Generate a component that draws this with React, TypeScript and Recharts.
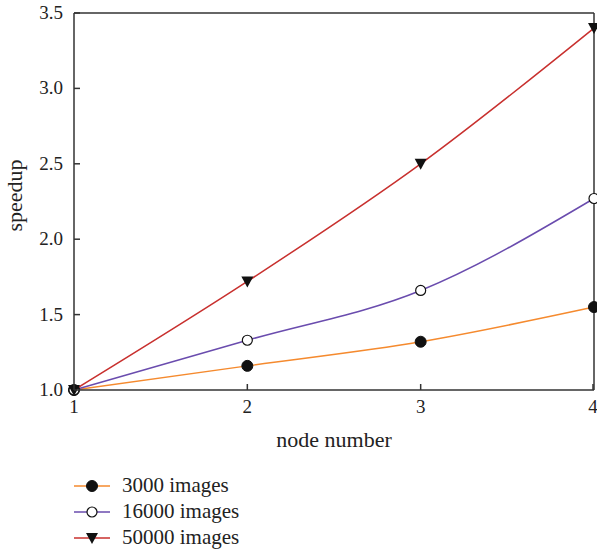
import React from 'react';
import { LineChart, Line, XAxis, YAxis, ReferenceLine } from 'recharts';

const nodes = [1, 2, 3, 4];
const speedup3000 = [1.0, 1.16, 1.32, 1.55];
const speedup16000 = [1.0, 1.33, 1.66, 2.27];
const speedup50000 = [1.0, 1.72, 2.5, 3.4];
const yTicks = [1.0, 1.5, 2.0, 2.5, 3.0, 3.5];

const data = nodes.map((n, i) => ({
  node: n,
  s3000: speedup3000[i],
  s16000: speedup16000[i],
  s50000: speedup50000[i],
}));

const FONT = '"Liberation Serif", "DejaVu Serif", serif';
const AXIS = '#333';

const series = [
  { key: 's3000', name: '3000 images', color: '#f58a2e', marker: 'filled' },
  { key: 's16000', name: '16000 images', color: '#6a4cae', marker: 'open' },
  { key: 's50000', name: '50000 images', color: '#c8302e', marker: 'tri' },
];

const Marker = ({ cx, cy, kind }: { cx: number; cy: number; kind: string }) => {
  if (kind === 'filled') return <circle cx={cx} cy={cy} r={5.5} fill="#111" stroke="#111" />;
  if (kind === 'open') return <circle cx={cx} cy={cy} r={5} fill="#fff" stroke="#111" strokeWidth={1.2} />;
  return <path d={`M${cx - 6},${cy - 5} L${cx + 6},${cy - 5} L${cx},${cy + 6} Z`} fill="#111" />;
};

const dotFor = (kind: string) => (props: any) => (
  <Marker key={`${kind}-${props.index}`} cx={props.cx} cy={props.cy} kind={kind} />
);

const YTick = (props: any) => {
  const { x, y, payload } = props;
  return (
    <g>
      <line x1={x + 8} x2={x + 14} y1={y} y2={y} stroke={AXIS} strokeWidth={1.5} />
      <text x={x - 3} y={y + 6} textAnchor="end" fontSize={19} fontFamily={FONT} fill="#222">
        {Number(payload.value).toFixed(1)}
      </text>
    </g>
  );
};

const XTick = (props: any) => {
  const { x, y, payload } = props;
  return (
    <g>
      <line x1={x} x2={x} y1={y - 6} y2={y - 12} stroke={AXIS} strokeWidth={1.5} />
      <text x={x} y={y + 17} textAnchor="middle" fontSize={19} fontFamily={FONT} fill="#222">
        {payload.value}
      </text>
    </g>
  );
};

const LegendBox = () => (
  <svg width={300} height={90} style={{ position: 'absolute', left: 0, top: 470 }}>
    {series.map((s, i) => {
      const y = 16 + i * 26;
      return (
        <g key={s.key}>
          <line x1={74} x2={110} y1={y} y2={y} stroke={s.color} strokeWidth={1.5} />
          <Marker cx={92} cy={y} kind={s.marker} />
          <text x={122} y={y + 6} fontSize={21} fontFamily={FONT} fill="#222">
            {s.name}
          </text>
        </g>
      );
    })}
  </svg>
);

export default function App() {
  return (
    <div style={{ position: 'absolute', left: 0, top: 0, width: 597, height: 554, background: '#fff' }}>
      <LineChart
        width={597}
        height={554}
        data={data}
        margin={{ top: 13, right: 3, left: 0, bottom: 104 }}
      >
        <XAxis
          dataKey="node"
          type="number"
          domain={[1, 4]}
          ticks={nodes}
          height={60}
          tickSize={0}
          tickMargin={6}
          tick={<XTick />}
          stroke={AXIS}
          strokeWidth={1.5}
          label={{ value: 'node number', position: 'insideBottom', offset: 3, fontSize: 22, fontFamily: FONT, fill: '#222' }}
        />
        <YAxis
          type="number"
          domain={[1, 3.5]}
          ticks={yTicks}
          width={74}
          tickSize={0}
          tickMargin={8}
          tick={<YTick />}
          stroke={AXIS}
          strokeWidth={1.5}
          label={{ value: 'speedup', angle: -90, position: 'insideLeft', offset: 14, fontSize: 22, fontFamily: FONT, fill: '#222', dy: -6, style: { textAnchor: 'middle' } }}
        />
        <ReferenceLine y={3.5} stroke={AXIS} strokeWidth={1.5} />
        <ReferenceLine x={4} stroke={AXIS} strokeWidth={1.5} />
        {series.map((s) => (
          <Line
            key={s.key}
            type="monotone"
            dataKey={s.key}
            name={s.name}
            stroke={s.color}
            strokeWidth={1.5}
            dot={dotFor(s.marker)}
            activeDot={false}
            isAnimationActive={false}
          />
        ))}
      </LineChart>
      <LegendBox />
    </div>
  );
}
